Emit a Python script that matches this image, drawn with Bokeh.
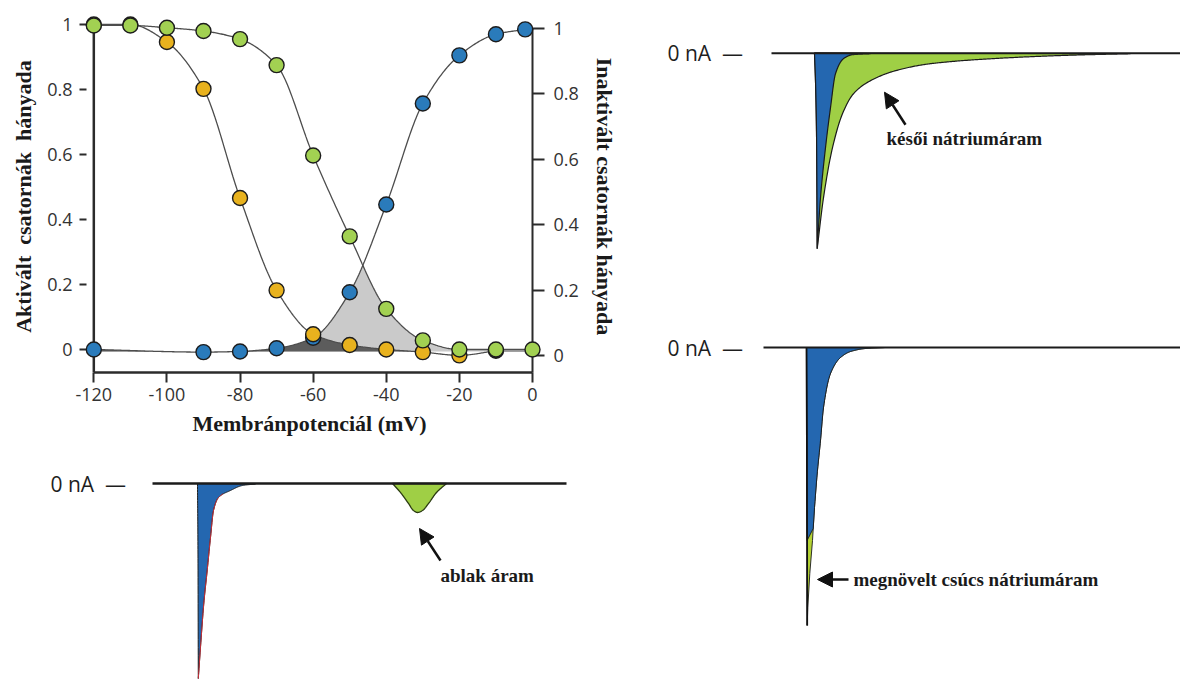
import numpy as np
from bokeh.plotting import figure
from bokeh.layouts import row, column
from bokeh.models import (Range1d, LinearAxis, FixedTicker, CustomJSTickFormatter,
                          Span, Arrow, NormalHead)
from bokeh.core.properties import value
from bokeh.embed import file_html
from bokeh.resources import INLINE

# ---------------- steady-state curves (fraction of channels) ----------------
V_ACT = [-120, -90, -80, -70, -60, -50, -40, -30, -20, -10, -2]
ACT = [0.0, -0.008, -0.006, 0.004, 0.036, 0.176, 0.446, 0.757, 0.905, 0.970, 0.985]

V_INACT_WT = [-120, -110, -100, -90, -80, -70, -60, -50, -40, -30, -20, -10]
INACT_WT = [1.0, 1.0, 0.946, 0.802, 0.466, 0.182, 0.047, 0.014, 0.0, -0.008, -0.018, -0.004]

V_INACT_MUT = [-120, -110, -100, -90, -80, -70, -60, -50, -40, -30, -20, -10, 0]
INACT_MUT = [0.997, 0.997, 0.99, 0.98, 0.955, 0.875, 0.597, 0.348, 0.125, 0.028, 0.0, 0.0, 0.0]

X_TICKS = [-120, -100, -80, -60, -40, -20, 0]
Y_TICKS = [0, 0.2, 0.4, 0.6, 0.8, 1]

# ---------------- current traces (time in ms, current in nA) ----------------
# window current panel
WIN_REC = [-4.5, 36.9]
WIN_SPIKE_T = [0, 0.05, 0.07, 0.08, 0.37, 0.63, 0.97, 1.3, 1.6, 2.1, 3.3, 4.5, 5.8]
WIN_SPIKE_I = [0, -1.54, -3.14, -3.9, -3.08, -2.4, -1.74, -1.08, -0.54, -0.28, -0.14, -0.04, -0.01]
WIN_BUMP_T = [19.5, 20.3, 21.1, 21.6, 22.0, 22.5, 23.1, 23.9, 24.9]
WIN_BUMP_I = [0, -0.18, -0.4, -0.54, -0.58, -0.54, -0.4, -0.18, 0]

# late sodium current panel
LATE_REC = [-4.3, 36.6]
LATE_ONSET_T = [0, 0.1, 0.2, 0.25, 0.27]
LATE_ONSET_I = [0, -0.55, -1.55, -2.95, -3.91]
LATE_WT_DECAY_T = [0.27, 0.6, 1.1, 1.6, 2.1, 2.9, 3.8, 5.6]
LATE_WT_DECAY_I = [-3.91, -2.89, -1.89, -1.09, -0.41, -0.11, -0.03, -0.01]
LATE_MUT_DECAY_T = [0.27, 0.9, 1.8, 2.8, 3.9, 5.6, 8.1, 11.6, 18.6, 25.6, 31.6]
LATE_MUT_DECAY_I = [-3.91, -2.89, -1.89, -1.21, -0.81, -0.55, -0.35, -0.21, -0.10, -0.04, -0.01]

# increased peak current panel
PEAK_REC = [-4.3, 37.4]
PEAK_RISE_T = [0, 0.04, 0.05, 0.06]
PEAK_RISE_I = [0, -1.86, -3.2, -3.86]
PEAK_MUT_TIP_T = [0.07, 0.13, 0.33, 0.6]
PEAK_MUT_TIP_I = [-5.56, -5.2, -4.52, -3.86]
PEAK_WT_TIP_T = [0.67]
PEAK_WT_TIP_I = [-3.62]
PEAK_DECAY_T = [0.8, 1.07, 1.4, 1.7, 2.4, 3.4, 4.4, 5.9, 7.9]
PEAK_DECAY_I = [-3.2, -2.52, -1.86, -1.2, -0.52, -0.2, -0.08, -0.02, 0.0]

BLUE = "#2a7bbb"
YELLOW = "#e8b21e"
GREEN = "#a2d152"
TRACE_BLUE = "#2467b0"
TRACE_GREEN = "#9fcf45"
PEAK_GREEN = "#b4d334"
INK = "#2b2b2b"
SANS = "Open Sans"
SERIF = "Liberation Serif"


def pchip(x, y, xq):
    """Monotone piecewise-cubic Hermite curve through (x, y), evaluated at xq."""
    x = np.asarray(x, float)
    y = np.asarray(y, float)
    xq = np.clip(np.asarray(xq, float), x[0], x[-1])
    h = np.diff(x)
    d = np.diff(y) / h
    m = np.zeros_like(y)
    m[0], m[-1] = d[0], d[-1]
    for k in range(1, len(x) - 1):
        if d[k - 1] * d[k] > 0:
            w1 = 2 * h[k] + h[k - 1]
            w2 = h[k] + 2 * h[k - 1]
            m[k] = (w1 + w2) / (w1 / d[k - 1] + w2 / d[k])
    i = np.clip(np.searchsorted(x, xq, side="right") - 1, 0, len(h) - 1)
    t = (xq - x[i]) / h[i]
    t2, t3 = t * t, t * t * t
    return ((2 * t3 - 3 * t2 + 1) * y[i] + (t3 - 2 * t2 + t) * h[i] * m[i]
            + (-2 * t3 + 3 * t2) * y[i + 1] + (t3 - t2) * h[i] * m[i + 1])


def smooth(x, y, n=120):
    xs = np.linspace(x[0], x[-1], n)
    return xs, pchip(x, y, xs)


# left column plots share these borders so that their frames line up
LEFT_BORDER = 86
RIGHT_BORDER = 88

# ======================= steady-state chart =======================
p1 = figure(width=620, height=440, x_range=Range1d(-122, 0), y_range=Range1d(-0.0708, 1.0123),
            output_backend="svg", toolbar_location=None,
            x_axis_location=None, y_axis_location=None,
            min_border_left=LEFT_BORDER, min_border_right=RIGHT_BORDER,
            min_border_top=20, min_border_bottom=68)
p1.extra_y_ranges = {"inact": Range1d(-0.052, 1.0245)}
p1.xgrid.grid_line_color = None
p1.ygrid.grid_line_color = None
p1.outline_line_color = None


def style_axis(ax):
    ax.axis_line_color = INK
    ax.axis_line_width = 2.5
    ax.major_tick_line_color = INK
    ax.major_tick_line_width = 2
    ax.major_tick_in = 0
    ax.minor_tick_line_color = None
    ax.major_label_text_font = SANS
    ax.major_label_text_font_size = "18px"
    ax.major_label_text_color = "#333333"
    ax.axis_label_text_font = SERIF
    ax.axis_label_text_font_style = "bold"
    ax.axis_label_text_font_size = "22px"
    ax.axis_label_text_color = "#1a1a1a"


frac_fmt = CustomJSTickFormatter(code="return String(Math.round(tick * 10) / 10)")
mv_fmt = CustomJSTickFormatter(code="return tick.toString()")

xax = LinearAxis(ticker=FixedTicker(ticks=X_TICKS), formatter=mv_fmt, bounds=(-120, 0),
                 axis_label="Membránpotenciál (mV)")
style_axis(xax)
xax.major_tick_out = 10
xax.major_label_standoff = 5
xax.axis_label_standoff = 7
p1.add_layout(xax, "below")

yax = LinearAxis(ticker=FixedTicker(ticks=Y_TICKS), formatter=frac_fmt,
                 axis_label="Aktivált\u00a0 csatornák\u00a0 hányada")
style_axis(yax)
yax.axis_line_color = None
yax.major_tick_out = 7
yax.major_label_standoff = 7
yax.axis_label_standoff = 8
p1.add_layout(yax, "left")

rax = LinearAxis(y_range_name="inact", ticker=FixedTicker(ticks=Y_TICKS), formatter=frac_fmt,
                 bounds=(-1, 1), axis_label="Inaktivált csatornák hányada")
style_axis(rax)
rax.axis_line_width = 2
rax.major_tick_out = 12
rax.major_label_standoff = 9
rax.axis_label_standoff = 10
p1.add_layout(rax, "right")

p1.add_layout(Span(location=-120, dimension="height", line_color=INK, line_width=2.5))

# window areas where activation and availability overlap
vgrid = np.linspace(-120, 0, 961)
act_g = pchip(V_ACT, ACT, vgrid)
wt_g = pchip(V_INACT_WT, INACT_WT, vgrid)
mut_g = pchip(V_INACT_MUT, INACT_MUT, vgrid)
base = -0.006
p1.varea(x=vgrid, y1=base, y2=np.maximum(np.minimum(act_g, mut_g), base), fill_color="#cacaca")
p1.varea(x=vgrid, y1=base, y2=np.maximum(np.minimum(act_g, wt_g), base), fill_color="#5c5c5c")

for vx, vy in ((V_ACT, ACT), (V_INACT_WT, INACT_WT), (V_INACT_MUT, INACT_MUT)):
    xs, ys = smooth(vx, vy, 400)
    p1.line(xs, ys, line_color="#4d4d4d", line_width=1.3)

wt_fill = [YELLOW] * (len(V_INACT_WT) - 1) + ["#2e2b1e"]
p1.scatter(V_ACT, ACT, size=15, fill_color=BLUE, line_color="#1c1c1c", line_width=1.4, level="overlay")
p1.scatter(V_INACT_WT, INACT_WT, size=15, fill_color=wt_fill, line_color="#1c1c1c", line_width=1.4,
           level="overlay")
p1.scatter(V_INACT_MUT, INACT_MUT, size=15, fill_color=GREEN, line_color="#1c1c1c", line_width=1.4,
           level="overlay")


# ======================= current traces =======================
def trace_fig(w, h, xr, yr, left=0, right=0):
    f = figure(width=w, height=h, x_range=Range1d(*xr), y_range=Range1d(*yr),
               output_backend="svg", toolbar_location=None,
               x_axis_location=None, y_axis_location=None,
               min_border=0, min_border_left=left, min_border_right=right)
    f.xgrid.grid_line_color = None
    f.ygrid.grid_line_color = None
    f.outline_line_color = None
    return f


def zero_label(f, t):
    f.text(x=[t], y=[0], text=["0 nA\u00a0\u00a0\u2014"], text_font=value(SANS), text_font_size="21px",
           text_color="#1e1e1e", text_baseline="middle", text_align="left", level="overlay")


def note(f, t, i, txt):
    f.text(x=[t], y=[i], text=[txt], text_font=value(SERIF), text_font_style="bold",
           text_font_size="19px", text_color="#1a1a1a", text_baseline="middle", level="overlay")


def pointer(f, t0, i0, t1, i1):
    f.add_layout(Arrow(end=NormalHead(size=15, fill_color="#111111", line_color="#111111"),
                       x_start=t0, y_start=i0, x_end=t1, y_end=i1,
                       line_color="#111111", line_width=2.5, level="overlay"))


# --- window current (frame shared with the chart above: 10 px per ms, onset at x=197) ---
p2 = trace_fig(620, 240, ((LEFT_BORDER - 197) / 10, (620 - RIGHT_BORDER - 197) / 10), (-3.94, 0.86),
               left=LEFT_BORDER, right=RIGHT_BORDER)
ld_t, ld_i = smooth(WIN_SPIKE_T[:4], WIN_SPIKE_I[:4], 40)
rc_t, rc_i = smooth(WIN_SPIKE_T[3:], WIN_SPIKE_I[3:], 160)
p2.patch(np.r_[ld_t, rc_t], np.r_[ld_i, rc_i], fill_color=TRACE_BLUE, line_color="#1b1b1b",
         line_width=1, level="overlay")
p2.line(rc_t[:70], rc_i[:70], line_color="#c8303a", line_width=1, level="overlay")
bt, bi = smooth(WIN_BUMP_T, WIN_BUMP_I, 120)
p2.patch(bt, bi, fill_color=TRACE_GREEN, line_color="#2a3a10", line_width=1.3, level="overlay")
p2.line(WIN_REC, [0, 0], line_color="#1b1b1b", line_width=2.5, level="overlay")
zero_label(p2, -14.7)
pointer(p2, 24.3, -1.54, 22.2, -0.9)
note(p2, 24.3, -1.84, "ablak áram")

# --- late sodium current ---
p3 = trace_fig(560, 300, (-19.4, 36.6), (-4.946, 1.054))
on_t, on_i = smooth(LATE_ONSET_T, LATE_ONSET_I, 40)
wt_t, wt_i = smooth(LATE_WT_DECAY_T, LATE_WT_DECAY_I, 150)
mt_t, mt_i = smooth(LATE_MUT_DECAY_T, LATE_MUT_DECAY_I, 300)
p3.patch(np.r_[on_t, mt_t], np.r_[on_i, mt_i], fill_color=TRACE_GREEN, line_color="#1b1b1b", line_width=1.2)
p3.patch(np.r_[on_t, wt_t], np.r_[on_i, wt_i], fill_color=TRACE_BLUE, line_color="#1b1b1b", line_width=1.2)
p3.line(LATE_REC, [0, 0], line_color="#1b1b1b", line_width=2)
zero_label(p3, -14.7)
pointer(p3, 9.1, -1.43, 7.0, -0.78)
note(p3, 7.2, -1.70, "késői nátriumáram")

# --- increased peak current ---
p4 = trace_fig(560, 380, (-18.6, 37.4), (-6.66, 0.94))
dc_t, dc_i = smooth(PEAK_DECAY_T, PEAK_DECAY_I, 150)
mut_t = np.r_[PEAK_RISE_T, PEAK_MUT_TIP_T, dc_t]
mut_i = np.r_[PEAK_RISE_I, PEAK_MUT_TIP_I, dc_i]
wt_t = np.r_[PEAK_RISE_T, PEAK_WT_TIP_T, dc_t]
wt_i = np.r_[PEAK_RISE_I, PEAK_WT_TIP_I, dc_i]
p4.patch(mut_t, mut_i, fill_color=PEAK_GREEN, line_color="#1b1b1b", line_width=0.9)
p4.patch(wt_t, wt_i, fill_color=TRACE_BLUE, line_color="#1b1b1b", line_width=0.9)
p4.line(np.r_[PEAK_RISE_T, PEAK_MUT_TIP_T[:1]], np.r_[PEAK_RISE_I, PEAK_MUT_TIP_I[:1]],
        line_color="#111111", line_width=1.8)
p4.line(PEAK_REC, [0, 0], line_color="#1b1b1b", line_width=2)
zero_label(p4, -13.9)
pointer(p4, 4.2, -4.64, 1.1, -4.64)
note(p4, 4.7, -4.64, "megnövelt csúcs nátriumáram")

layout = row(column(p1, p2), column(p3, p4))
open("out.html", "w").write(file_html(layout, INLINE, title="Nátriumáram"))
